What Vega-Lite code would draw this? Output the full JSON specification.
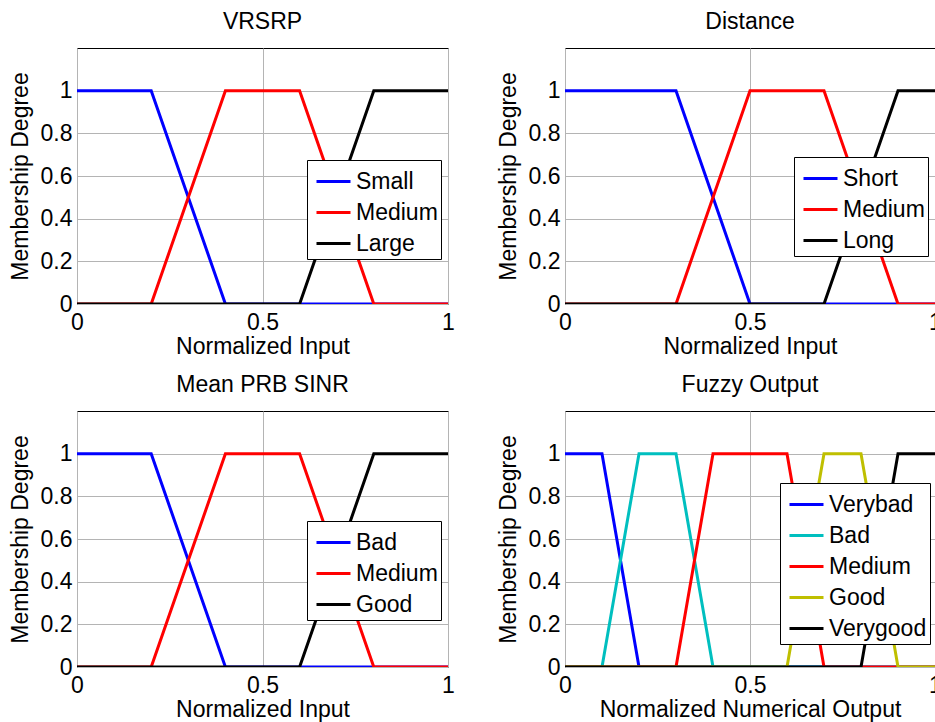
{
  "$schema": "https://vega.github.io/schema/vega-lite/v6.json",
  "background": "white",
  "padding": {"left": 8, "top": 10, "right": 0, "bottom": 0},
  "bounds": "flush",
  "spacing": {"row": 107, "column": 117},
  "columns": 2,
  "config": {
    "font": "Liberation Sans",
    "view": {"stroke": "black", "strokeWidth": 1},
    "title": {"fontSize": 23, "fontWeight": "normal", "color": "black", "offset": 14, "anchor": "middle"},
    "axis": {
      "labelFontSize": 23, "titleFontSize": 23, "titleFontWeight": "normal",
      "labelColor": "black", "titleColor": "black",
      "gridColor": "#b4b4b4", "gridOpacity": 1, "gridWidth": 1,
      "domain": false, "ticks": false
    },
    "axisX": {"labelPadding": 7, "titlePadding": 1, "labelExpr": "'' + datum.value", "labelBaseline": "top", "labelFlush": false},
    "axisY": {"labelPadding": 5, "titlePadding": 8, "labelExpr": "'' + datum.value", "labelBaseline": "middle", "labelFlush": false},
    "legend": {
      "orient": "none", "title": null, "strokeColor": "black", "fillColor": "white",
      "padding": 3, "symbolType": "stroke", "symbolStrokeWidth": 3, "symbolSize": 1156,
      "symbolOffset": 5, "labelFontSize": 23, "labelColor": "black", "labelOffset": 4,
      "rowPadding": -4, "labelLimit": 300
    }
  },
  "resolve": {"scale": {"color": "independent"}, "legend": {"color": "independent"}},
  "datasets": {
    "vrsrp": [
      {"set": "Small", "x": 0, "y": 1}, {"set": "Small", "x": 0.2, "y": 1}, {"set": "Small", "x": 0.4, "y": 0}, {"set": "Small", "x": 1, "y": 0},
      {"set": "Medium", "x": 0, "y": 0}, {"set": "Medium", "x": 0.2, "y": 0}, {"set": "Medium", "x": 0.4, "y": 1}, {"set": "Medium", "x": 0.6, "y": 1}, {"set": "Medium", "x": 0.8, "y": 0}, {"set": "Medium", "x": 1, "y": 0},
      {"set": "Large", "x": 0, "y": 0}, {"set": "Large", "x": 0.6, "y": 0}, {"set": "Large", "x": 0.8, "y": 1}, {"set": "Large", "x": 1, "y": 1}
    ],
    "distance": [
      {"set": "Short", "x": 0, "y": 1}, {"set": "Short", "x": 0.3, "y": 1}, {"set": "Short", "x": 0.5, "y": 0}, {"set": "Short", "x": 1, "y": 0},
      {"set": "Medium", "x": 0, "y": 0}, {"set": "Medium", "x": 0.3, "y": 0}, {"set": "Medium", "x": 0.5, "y": 1}, {"set": "Medium", "x": 0.7, "y": 1}, {"set": "Medium", "x": 0.9, "y": 0}, {"set": "Medium", "x": 1, "y": 0},
      {"set": "Long", "x": 0, "y": 0}, {"set": "Long", "x": 0.7, "y": 0}, {"set": "Long", "x": 0.9, "y": 1}, {"set": "Long", "x": 1, "y": 1}
    ],
    "sinr": [
      {"set": "Bad", "x": 0, "y": 1}, {"set": "Bad", "x": 0.2, "y": 1}, {"set": "Bad", "x": 0.4, "y": 0}, {"set": "Bad", "x": 1, "y": 0},
      {"set": "Medium", "x": 0, "y": 0}, {"set": "Medium", "x": 0.2, "y": 0}, {"set": "Medium", "x": 0.4, "y": 1}, {"set": "Medium", "x": 0.6, "y": 1}, {"set": "Medium", "x": 0.8, "y": 0}, {"set": "Medium", "x": 1, "y": 0},
      {"set": "Good", "x": 0, "y": 0}, {"set": "Good", "x": 0.6, "y": 0}, {"set": "Good", "x": 0.8, "y": 1}, {"set": "Good", "x": 1, "y": 1}
    ],
    "output": [
      {"set": "Verybad", "x": 0, "y": 1}, {"set": "Verybad", "x": 0.1, "y": 1}, {"set": "Verybad", "x": 0.2, "y": 0}, {"set": "Verybad", "x": 1, "y": 0},
      {"set": "Bad", "x": 0, "y": 0}, {"set": "Bad", "x": 0.1, "y": 0}, {"set": "Bad", "x": 0.2, "y": 1}, {"set": "Bad", "x": 0.3, "y": 1}, {"set": "Bad", "x": 0.4, "y": 0}, {"set": "Bad", "x": 1, "y": 0},
      {"set": "Medium", "x": 0, "y": 0}, {"set": "Medium", "x": 0.3, "y": 0}, {"set": "Medium", "x": 0.4, "y": 1}, {"set": "Medium", "x": 0.6, "y": 1}, {"set": "Medium", "x": 0.7, "y": 0}, {"set": "Medium", "x": 1, "y": 0},
      {"set": "Good", "x": 0, "y": 0}, {"set": "Good", "x": 0.6, "y": 0}, {"set": "Good", "x": 0.7, "y": 1}, {"set": "Good", "x": 0.8, "y": 1}, {"set": "Good", "x": 0.9, "y": 0}, {"set": "Good", "x": 1, "y": 0},
      {"set": "Verygood", "x": 0, "y": 0}, {"set": "Verygood", "x": 0.8, "y": 0}, {"set": "Verygood", "x": 0.9, "y": 1}, {"set": "Verygood", "x": 1, "y": 1}
    ]
  },
  "concat": [
    {
      "title": "VRSRP",
      "width": 371, "height": 256,
      "data": {"name": "vrsrp"},
      "mark": {"type": "line", "strokeWidth": 3, "clip": true},
      "encoding": {
        "x": {"field": "x", "type": "quantitative", "scale": {"domain": [0, 1], "nice": false}, "axis": {"values": [0, 0.5, 1], "title": "Normalized Input"}},
        "y": {"field": "y", "type": "quantitative", "scale": {"domain": [0, 1.2], "nice": false}, "axis": {"values": [0, 0.2, 0.4, 0.6, 0.8, 1], "title": "Membership Degree"}},
        "color": {"field": "set", "type": "nominal", "scale": {"domain": ["Small", "Medium", "Large"], "range": ["#0000ff", "#ff0000", "#000000"]}, "legend": {"legendX": 230, "legendY": 112}}
      }
    },
    {
      "title": "Distance",
      "width": 370, "height": 256,
      "data": {"name": "distance"},
      "mark": {"type": "line", "strokeWidth": 3, "clip": true},
      "encoding": {
        "x": {"field": "x", "type": "quantitative", "scale": {"domain": [0, 1], "nice": false}, "axis": {"values": [0, 0.5, 1], "title": "Normalized Input"}},
        "y": {"field": "y", "type": "quantitative", "scale": {"domain": [0, 1.2], "nice": false}, "axis": {"values": [0, 0.2, 0.4, 0.6, 0.8, 1], "title": "Membership Degree"}},
        "color": {"field": "set", "type": "nominal", "scale": {"domain": ["Short", "Medium", "Long"], "range": ["#0000ff", "#ff0000", "#000000"]}, "legend": {"legendX": 229, "legendY": 109}}
      }
    },
    {
      "title": "Mean PRB SINR",
      "width": 371, "height": 256,
      "data": {"name": "sinr"},
      "mark": {"type": "line", "strokeWidth": 3, "clip": true},
      "encoding": {
        "x": {"field": "x", "type": "quantitative", "scale": {"domain": [0, 1], "nice": false}, "axis": {"values": [0, 0.5, 1], "title": "Normalized Input"}},
        "y": {"field": "y", "type": "quantitative", "scale": {"domain": [0, 1.2], "nice": false}, "axis": {"values": [0, 0.2, 0.4, 0.6, 0.8, 1], "title": "Membership Degree"}},
        "color": {"field": "set", "type": "nominal", "scale": {"domain": ["Bad", "Medium", "Good"], "range": ["#0000ff", "#ff0000", "#000000"]}, "legend": {"legendX": 230, "legendY": 110}}
      }
    },
    {
      "title": "Fuzzy Output",
      "width": 370, "height": 256,
      "data": {"name": "output"},
      "mark": {"type": "line", "strokeWidth": 3, "clip": true},
      "encoding": {
        "x": {"field": "x", "type": "quantitative", "scale": {"domain": [0, 1], "nice": false}, "axis": {"values": [0, 0.5, 1], "title": "Normalized Numerical Output"}},
        "y": {"field": "y", "type": "quantitative", "scale": {"domain": [0, 1.2], "nice": false}, "axis": {"values": [0, 0.2, 0.4, 0.6, 0.8, 1], "title": "Membership Degree"}},
        "color": {"field": "set", "type": "nominal", "scale": {"domain": ["Verybad", "Bad", "Medium", "Good", "Verygood"], "range": ["#0000ff", "#00bfbf", "#ff0000", "#bfbf00", "#000000"]}, "legend": {"legendX": 215, "legendY": 72}}
      }
    }
  ]
}
